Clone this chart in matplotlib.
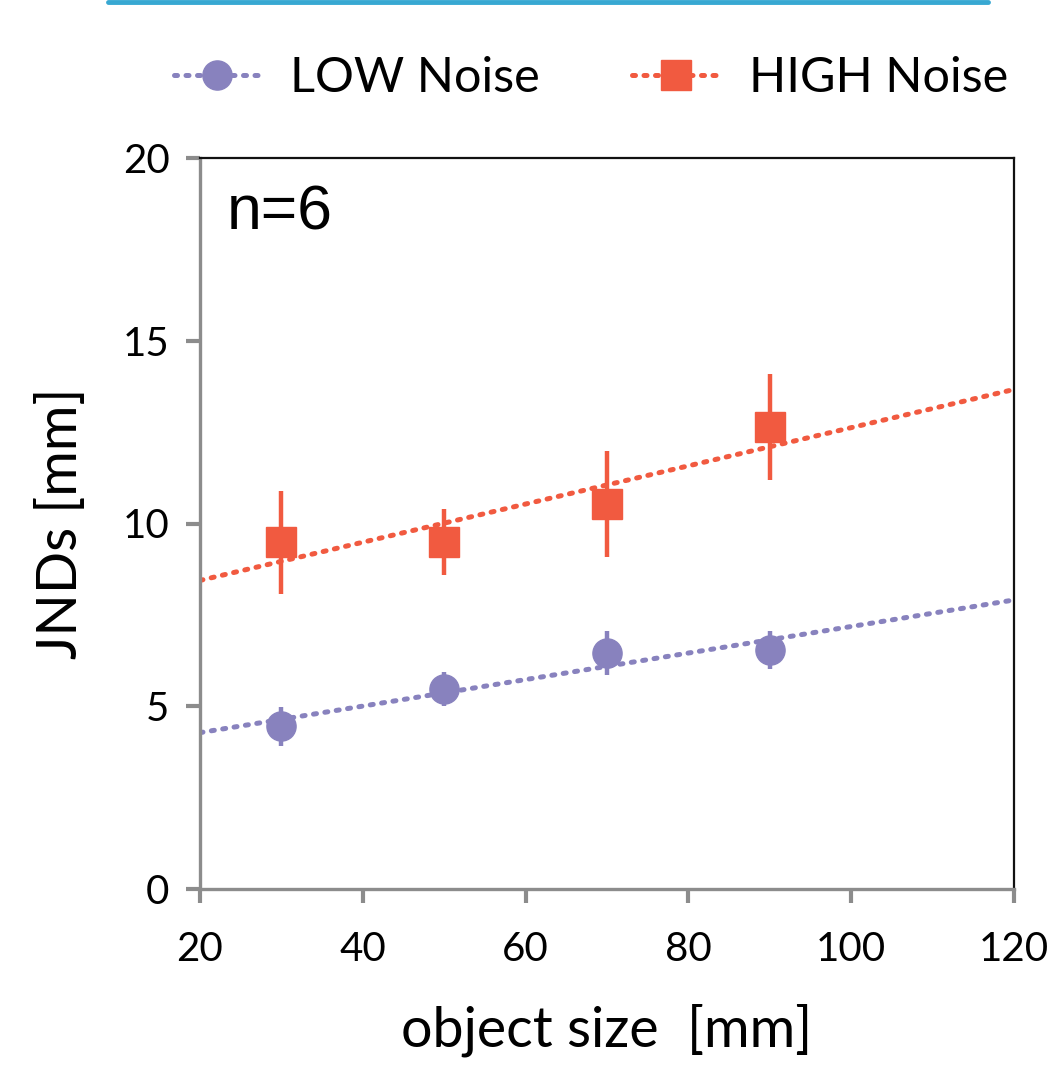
import matplotlib
matplotlib.use("Agg")
import matplotlib.pyplot as plt
import numpy as np
from matplotlib.lines import Line2D

# ---- data ----
sizes = [30, 50, 70, 90]
low_jnd = [4.45, 5.47, 6.46, 6.54]
low_err = [0.53, 0.47, 0.60, 0.53]
high_jnd = [9.49, 9.49, 10.52, 12.63]
high_err = [1.41, 0.91, 1.45, 1.45]
series_labels = ["LOW Noise", "HIGH Noise"]
xticks = [20, 40, 60, 80, 100, 120]
yticks = [0, 5, 10, 15, 20]

low_color = "#8882BE"
high_color = "#F15A40"
font = "Lato"
dot_style = (0, (0.6, 1.7))

fig = plt.figure(figsize=(10.58, 10.70), dpi=100)
ax = fig.add_axes([200/1058, 1 - 889/1070, (1014-200)/1058, (889-158)/1070])

xfit = np.array([20, 120])
for y, e, c, m, lab in [(low_jnd, low_err, low_color, "o", series_labels[0]),
                        (high_jnd, high_err, high_color, "s", series_labels[1])]:
    p = np.polyfit(sizes, y, 1)
    ax.plot(xfit, np.polyval(p, xfit), color=c, lw=3.6,
            linestyle=dot_style, dash_capstyle="round", zorder=2)
    ax.errorbar(sizes, y, yerr=e, fmt="none", ecolor=c, elinewidth=3.2,
                capsize=0, zorder=3)
    ax.plot(sizes, y, linestyle="none", marker=m, ms=21, color=c,
            mec=c, zorder=4)

ax.set_xlim(20, 120)
ax.set_ylim(0, 20)
ax.set_xticks(xticks)
ax.set_yticks(yticks)
ax.set_xticklabels([str(v) for v in xticks], fontsize=29, family=font)
ax.set_yticklabels([str(v) for v in yticks], fontsize=29, family=font)
ax.tick_params(axis="x", direction="out", length=10, width=3,
               color="#8c8c8c", pad=20)
ax.tick_params(axis="y", direction="out", length=10, width=3,
               color="#8c8c8c", pad=12)

for s in ["left", "bottom"]:
    ax.spines[s].set_color("#8c8c8c")
    ax.spines[s].set_linewidth(2.4)
for s in ["top", "right"]:
    ax.spines[s].set_color("#111111")
    ax.spines[s].set_linewidth(1.6)

ax.set_xlabel("object size  [mm]", fontsize=40, family=font, labelpad=26)
ax.set_ylabel("JNDs [mm]", fontsize=40, family=font, labelpad=26)

ax.text(0.033, 0.965, "n=6", transform=ax.transAxes, fontsize=45,
        family="Liberation Sans", va="top", ha="left")

handles = [
    Line2D([0], [0], color=low_color, lw=3.6, linestyle=dot_style,
           dash_capstyle="round", marker="o", ms=21, mec=low_color),
    Line2D([0], [0], color=high_color, lw=3.6, linestyle=dot_style,
           dash_capstyle="round", marker="s", ms=21, mec=high_color),
]
leg = fig.legend(handles, series_labels, loc="center", ncol=2,
                 bbox_to_anchor=(591/1058, 1 - 78/1070), frameon=False,
                 prop={"family": font, "size": 35}, handlelength=1.8,
                 columnspacing=1.9, handletextpad=0.6)

# partial blue frame at top of the image
fig.add_artist(Line2D([108/1058, 988/1058], [1 - 2/1070, 1 - 2/1070],
                      transform=fig.transFigure, color="#38A8D2", lw=3.5,
                      solid_capstyle="round"))

fig.savefig("out.png", dpi=100)
